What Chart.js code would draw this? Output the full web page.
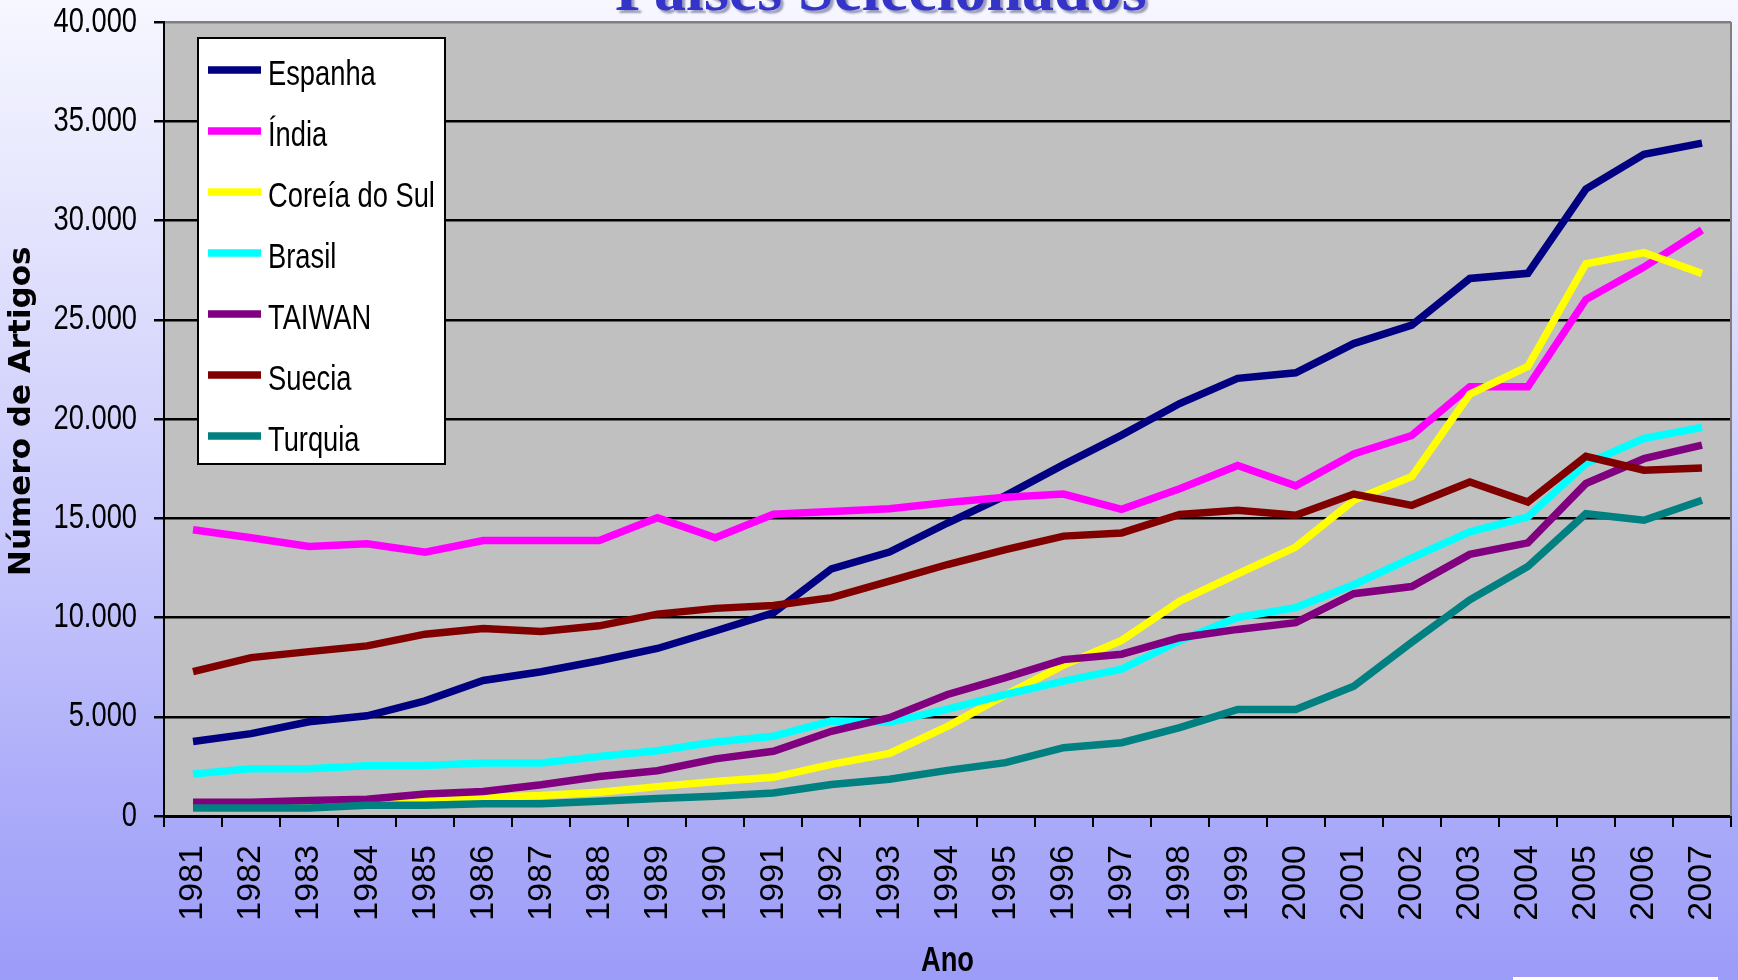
<!DOCTYPE html>
<html><head><meta charset="utf-8">
<script src="https://cdn.jsdelivr.net/npm/chart.js"></script>
<style>
html,body{margin:0;padding:0;width:1738px;height:980px;overflow:hidden;}
body{position:relative;background:linear-gradient(to bottom,#f6f7ff 0%,#e2e2fd 25%,#c8c8fc 55%,#adadfa 80%,#9c9cf9 100%);}
#title{position:absolute;left:615px;top:-43px;font:bold 64px "Liberation Serif","Times New Roman",serif;color:#3434c8;text-shadow:3px 3px 2px rgba(80,80,130,0.55);white-space:nowrap;line-height:64px;}
#c{position:absolute;left:0;top:0;}
#note{position:absolute;left:1513px;top:977px;width:205px;height:3px;background:#fff;}
</style></head>
<body>
<div id="title">Países Selecionados</div>
<canvas id="c" width="1738" height="980"></canvas>
<div id="note"></div>
<script>
const years = ['1981','1982','1983','1984','1985','1986','1987','1988','1989','1990','1991','1992','1993','1994','1995','1996','1997','1998','1999','2000','2001','2002','2003','2004','2005','2006','2007'];
const seriesNames = ['Espanha','Índia','Coreía do Sul','Brasil','TAIWAN','Suecia','Turquia'];
const espanha = [3750,4150,4750,5050,5800,6830,7270,7820,8440,9320,10230,12450,13300,14760,16140,17700,19190,20780,22050,22330,23800,24730,27080,27340,31580,33330,33900];
const india   = [14420,14020,13580,13710,13290,13880,13880,13880,15030,14020,15200,15340,15480,15790,16060,16220,15450,16490,17660,16630,18240,19170,21630,21620,26020,27650,29520];
const coreia  = [400,450,500,650,820,930,1030,1200,1480,1740,1950,2600,3150,4520,6100,7600,8850,10820,12200,13550,15900,17100,21250,22650,27820,28380,27330];
const brasil  = [2120,2380,2380,2530,2550,2670,2670,3000,3290,3730,4020,4780,4720,5380,6120,6790,7400,8830,10000,10500,11650,13000,14320,15070,17750,19020,19580];
const taiwan  = [690,690,780,840,1110,1230,1570,1990,2280,2880,3260,4270,4950,6120,6970,7880,8150,8980,9400,9740,11200,11560,13180,13760,16750,18000,18680];
const suecia  = [7270,7980,8280,8570,9160,9440,9290,9580,10170,10460,10600,11000,11830,12670,13420,14100,14260,15190,15400,15150,16220,15650,16830,15820,18120,17420,17530];
const turquia = [400,400,400,540,540,620,620,740,880,990,1160,1590,1850,2300,2690,3440,3690,4450,5370,5370,6540,8750,10890,12570,15230,14900,15910];
const colors = ['#000080','#ff00ff','#ffff00','#00ffff','#800080','#800000','#008080'];
const yMin = 0, yMax = 40000, yStep = 5000;

const allData = [espanha, india, coreia, brasil, taiwan, suecia, turquia];
// "CondMark" is a marker family: text set in it is drawn horizontally condensed (like Arial Narrow)
const narrow = '"Liberation Sans",Arial,CondMark';
const COND = 0.78;

const canvas = document.getElementById('c');
const cx = canvas.getContext('2d');
const nativeFill = cx.fillText;
cx.fillText = function(text, x, y, maxWidth){
  const hasMax = (maxWidth !== undefined && maxWidth !== null);
  if (this.font.indexOf('CondMark') !== -1) {
    this.save();
    this.translate(x, y);
    this.scale(COND, 1);
    if (hasMax) nativeFill.call(this, text, 0, 0, maxWidth / COND); else nativeFill.call(this, text, 0, 0);
    this.restore();
  } else {
    if (hasMax) nativeFill.call(this, text, x, y, maxWidth); else nativeFill.call(this, text, x, y);
  }
};

function fmt(v){ return String(v).replace(/\B(?=(\d{3})+(?!\d))/g,'.'); }

const plotDeco = {
  id:'plotDeco',
  beforeDraw(chart){
    const {ctx, chartArea:a} = chart;
    ctx.save();
    ctx.fillStyle = '#c0c0c0';
    ctx.fillRect(a.left, a.top, a.right - a.left, a.bottom - a.top);
    ctx.restore();
  },
  beforeDatasetsDraw(chart){
    const {ctx, chartArea:a} = chart;
    ctx.save();
    ctx.strokeStyle = '#808080';
    ctx.lineWidth = 2;
    ctx.beginPath();
    ctx.moveTo(a.right, a.top); ctx.lineTo(a.right, a.bottom);
    ctx.stroke();
    ctx.restore();
  },
  afterDraw(chart){
    const ctx = chart.ctx;
    ctx.save();
    const bx = 198, by = 38, bw = 247, bh = 426;
    ctx.fillStyle = '#ffffff';
    ctx.fillRect(bx, by, bw, bh);
    ctx.strokeStyle = '#000';
    ctx.lineWidth = 2;
    ctx.strokeRect(bx, by, bw, bh);
    ctx.font = '35px ' + narrow;
    ctx.textBaseline = 'alphabetic';
    ctx.textAlign = 'left';
    chart.data.datasets.forEach((ds, i) => {
      const y = 70 + i * 61;
      ctx.strokeStyle = ds.borderColor;
      ctx.lineWidth = 7.5;
      ctx.lineCap = 'butt';
      ctx.beginPath();
      ctx.moveTo(208, y); ctx.lineTo(261, y);
      ctx.stroke();
      ctx.fillStyle = '#000';
      ctx.fillText(ds.label, 268, y + 15);
    });
    ctx.restore();
  }
};

new Chart(canvas, {
  type:'line',
  data:{
    labels: years,
    datasets: seriesNames.map((n, i) => ({
      label: n,
      data: allData[i],
      borderColor: colors[i],
      backgroundColor: colors[i],
      borderWidth: 7.5,
      pointRadius: 0,
      tension: 0,
      fill: false,
      borderCapStyle: 'butt',
      order: 6 - i
    }))
  },
  options:{
    responsive:false,
    animation:false,
    devicePixelRatio:1,
    layout:{padding:{top:22,right:7,left:0,bottom:0}},
    plugins:{legend:{display:false}, tooltip:{enabled:false}},
    scales:{
      x:{
        type:'category',
        offset:true,
        grid:{display:true, drawOnChartArea:false, drawTicks:true, tickLength:11, offset:true, color:'#000', lineWidth:2},
        border:{display:true, color:'#000', width:3},
        ticks:{minRotation:90, maxRotation:90, autoSkip:false, padding:18, color:'#000',
               font:{family:'"Liberation Sans",Arial,sans-serif', size:34}},
        title:{display:true, text:'Ano', color:'#000', padding:{top:0,bottom:0},
               font:{family:narrow, size:35, weight:'bold', lineHeight:1.05}},
        afterFit(s){ s.height = 164; s.paddingLeft = 0; s.paddingRight = 0; }
      },
      y:{
        min:yMin, max:yMax,
        ticks:{stepSize:yStep, padding:17, color:'#000', font:{family:narrow, size:35}, callback:v => fmt(v)},
        grid:{color:c => (c.tick && c.tick.value === yMax) ? '#808080' : '#000', tickColor:'#000', lineWidth:2.5, tickLength:10},
        border:{display:true, color:'#000', width:2},
        title:{display:true, text:'\u2002Número de Artigos', color:'#000', padding:{top:6,bottom:0},
               font:{family:'"DejaVu Sans",Verdana,sans-serif', size:31, weight:'bold', lineHeight:1.05}},
        afterFit(s){ s.width = 164; s.paddingTop = 0; s.paddingBottom = 0; }
      }
    }
  },
  plugins:[plotDeco]
});
</script>
</body></html>
